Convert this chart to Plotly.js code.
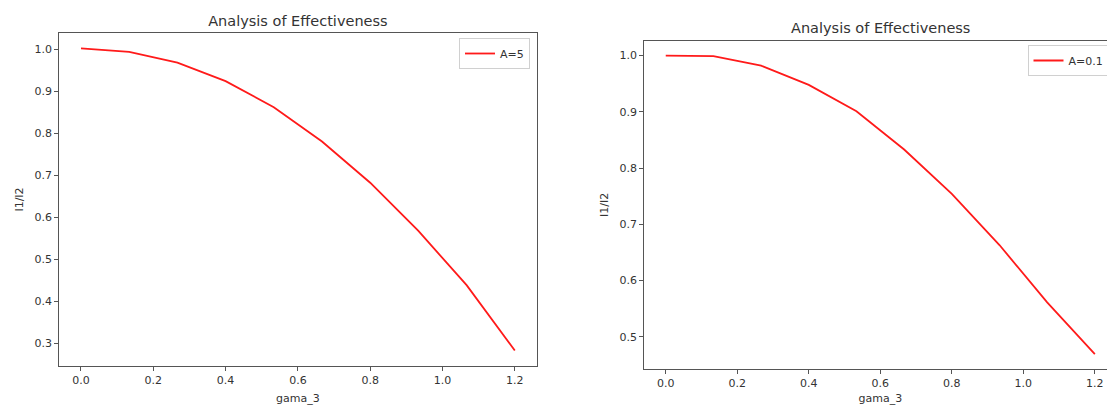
<!DOCTYPE html>
<html>
<head>
<meta charset="utf-8">
<script src="https://cdn.plot.ly/plotly-3.0.1.min.js"></script>
<style>
html,body{margin:0;padding:0;overflow:hidden;background:#fff;width:1107px;height:405px;}
#chart{width:1130px;height:405px;}
</style>
</head>
<body>
<div id="chart"></div>
<script>
// ---- data ----
const gama3 = [0.0, 0.1333, 0.2667, 0.4, 0.5333, 0.6667, 0.8, 0.9333, 1.0667, 1.2];
const ratioA5 = [1.002, 0.994, 0.968, 0.924, 0.862, 0.780, 0.682, 0.567, 0.438, 0.282];
const ratioA01 = [1.000, 0.999, 0.982, 0.948, 0.901, 0.833, 0.754, 0.663, 0.561, 0.469];
const nameLeft = 'A=5';
const nameRight = 'A=0.1';
const chartTitle = 'Analysis of Effectiveness';
const xLabel = 'gama_3';
const yLabel = 'I1/I2';
const xTickVals = [0.0, 0.2, 0.4, 0.6, 0.8, 1.0, 1.2];
const yTickValsLeft = [0.3, 0.4, 0.5, 0.6, 0.7, 0.8, 0.9, 1.0];
const yTickValsRight = [0.5, 0.6, 0.7, 0.8, 0.9, 1.0];

// ---- layout geometry (pixels) ----
const W = 1130, H = 405;
const px = v => v / W;
const py = v => 1 - v / H;
const FONT = 'DejaVu Sans, sans-serif';
const TXT = '#333333';
const SPINE = '#555555';

function pad(vals){
  const lo = Math.min(...vals), hi = Math.max(...vals), m = (hi - lo) * 0.05;
  return [lo - m, hi + m];
}

const axisCommon = {
  showgrid: false, zeroline: false, showline: true, mirror: true,
  linecolor: SPINE, linewidth: 1,
  ticks: 'outside', ticklen: 4, tickwidth: 1, tickcolor: SPINE,
  tickfont: {family: FONT, size: 11, color: TXT},
  tickformat: '.1f', fixedrange: true
};

const traces = [
  {x: gama3, y: ratioA5, type: 'scatter', mode: 'lines', name: nameLeft,
   line: {color: '#ff1a1a', width: 1.8}, xaxis: 'x', yaxis: 'y', legend: 'legend', showlegend: true},
  {x: gama3, y: ratioA01, type: 'scatter', mode: 'lines', name: nameRight,
   line: {color: '#ff1a1a', width: 1.8}, xaxis: 'x2', yaxis: 'y2', legend: 'legend2', showlegend: true}
];

const legendCommon = {
  bgcolor: '#ffffff', bordercolor: '#d0d0d0', borderwidth: 1,
  font: {family: FONT, size: 11, color: TXT},
  xanchor: 'right', yanchor: 'top', xref: 'paper', yref: 'paper',
  tracegroupgap: 0, itemwidth: 30
};

const layout = {
  width: W, height: H,
  margin: {l: 0, r: 0, t: 0, b: 0},
  paper_bgcolor: '#ffffff', plot_bgcolor: '#ffffff',
  font: {family: FONT, color: TXT},
  title: {text: chartTitle, font: {family: FONT, size: 14.5, color: TXT},
          x: px((59.3 + 536.5) / 2), xref: 'paper', xanchor: 'center',
          y: py(20.5), yref: 'paper', yanchor: 'middle'},
  xaxis: Object.assign({}, axisCommon, {
    domain: [px(59.3), px(536.5)], anchor: 'y',
    range: pad(gama3), tickvals: xTickVals,
    title: {text: xLabel, font: {family: FONT, size: 11, color: TXT}, standoff: 8}
  }),
  yaxis: Object.assign({}, axisCommon, {
    domain: [py(365.7), py(33.3)], anchor: 'x',
    range: pad(ratioA5), tickvals: yTickValsLeft,
    title: {text: yLabel, font: {family: FONT, size: 11, color: TXT}, standoff: 8}
  }),
  xaxis2: Object.assign({}, axisCommon, {
    domain: [px(644.3), px(1116.3)], anchor: 'y2',
    range: pad(gama3), tickvals: xTickVals,
    title: {text: xLabel, font: {family: FONT, size: 11, color: TXT}, standoff: 8}
  }),
  yaxis2: Object.assign({}, axisCommon, {
    domain: [py(369), py(40.7)], anchor: 'x2',
    range: pad(ratioA01), tickvals: yTickValsRight,
    title: {text: yLabel, font: {family: FONT, size: 11, color: TXT}, standoff: 8}
  }),
  legend: Object.assign({}, legendCommon, {x: px(530), y: py(38)}),
  legend2: Object.assign({}, legendCommon, {x: px(1109.5), y: py(45)}),
  annotations: [
    {text: chartTitle, showarrow: false, xref: 'paper', yref: 'paper',
     x: px((644.3 + 1116.3) / 2), y: py(28), xanchor: 'center', yanchor: 'middle',
     font: {family: FONT, size: 14.5, color: TXT}}
  ],
  showlegend: true
};

Plotly.newPlot('chart', traces, layout, {displayModeBar: false, staticPlot: true});
</script>
</body>
</html>
